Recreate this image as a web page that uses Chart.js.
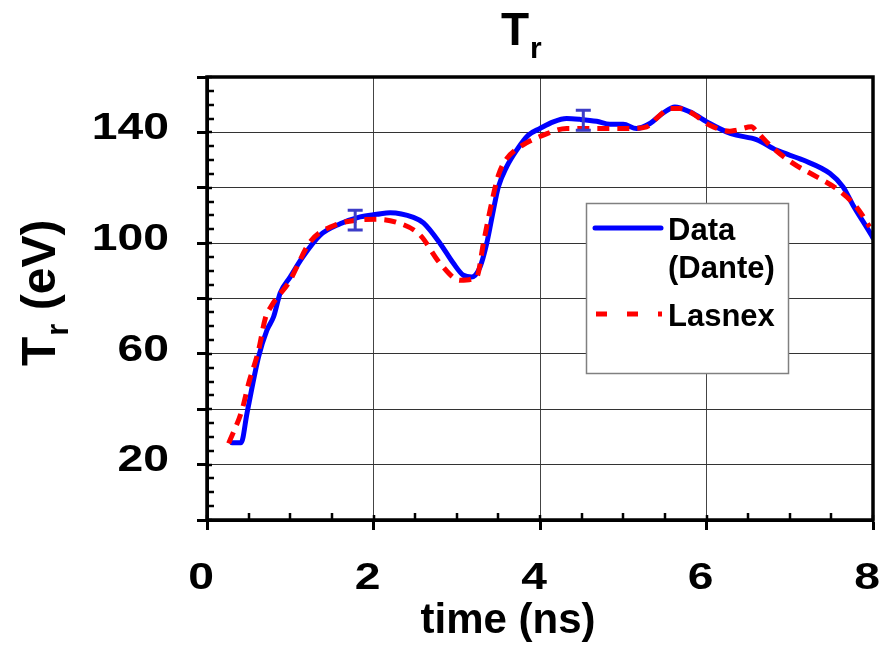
<!DOCTYPE html>
<html><head><meta charset="utf-8">
<script src="https://cdn.jsdelivr.net/npm/chart.js@4"></script>
<style>html,body{margin:0;padding:0;background:#fff}canvas{display:block}</style>
</head><body>
<canvas id="c" width="888" height="650"></canvas>
<script>
// ---- texts ----
const titleMain = 'T', titleSub = 'r';
const xTitle = 'time (ns)';
const yTitleMain = 'T', yTitleSub = 'r', yTitleRest = ' (eV)';
const legendData = ['Data', '(Dante)'];
const legendLasnex = ['Lasnex'];

// ---- axis ticks ----
const xMin = 0, xMax = 8, xStep = 2, xMinorStep = 0.5;
const yMin = 0, yMax = 160, yStep = 20, yMinorStep = 5;
const xLabeled = [0, 2, 4, 6, 8];
const yLabeled = [20, 60, 100, 140];

// ---- Data (Dante) ----
const dataTime = [0.30, 0.41, 0.48, 0.62, 0.72, 0.80, 0.88, 1.00, 1.15, 1.36, 1.60, 1.84, 2.04, 2.20, 2.48, 2.60, 2.80, 2.96, 3.08, 3.18, 3.28, 3.36, 3.44, 3.50, 3.60, 3.72, 3.86, 4.00, 4.16, 4.32, 4.48, 4.68, 4.84, 5.00, 5.16, 5.32, 5.48, 5.62, 5.80, 6.04, 6.24, 6.36, 6.60, 6.84, 7.16, 7.48, 7.64, 7.76, 7.98, 8.00];
const dataTemp = [27.9, 27.9, 38.5, 59.0, 68.6, 73.4, 82.0, 87.8, 95.0, 102.9, 107.0, 109.5, 110.4, 111.0, 109.3, 107.3, 99.9, 92.7, 88.4, 87.8, 91.4, 99.9, 111.9, 120.3, 127.6, 133.6, 139.0, 141.4, 143.8, 145.0, 144.7, 144.0, 142.9, 142.9, 141.4, 143.2, 147.0, 149.2, 147.4, 143.2, 140.2, 139.0, 137.4, 133.6, 130.0, 125.2, 120.3, 113.7, 102.9, 101.8];

// ---- Lasnex ----
const lasnexTime = [0.26, 0.42, 0.50, 0.62, 0.70, 0.78, 1.00, 1.04, 1.24, 1.52, 1.80, 2.04, 2.32, 2.56, 2.80, 3.04, 3.24, 3.32, 3.40, 3.50, 3.60, 3.76, 4.04, 4.32, 4.56, 4.84, 5.08, 5.28, 5.44, 5.56, 5.68, 5.80, 6.04, 6.28, 6.36, 6.54, 6.60, 6.76, 7.04, 7.32, 7.56, 7.80, 7.96];
const lasnexTemp = [27.7, 39.7, 49.3, 61.4, 72.8, 77.6, 86.6, 89.0, 100.5, 106.3, 108.3, 108.6, 107.1, 102.9, 92.7, 86.6, 87.8, 99.9, 111.9, 124.5, 130.5, 134.8, 139.0, 141.4, 141.4, 141.4, 141.4, 142.0, 146.2, 148.6, 148.6, 147.4, 142.6, 140.4, 140.8, 142.0, 140.4, 135.4, 128.8, 124.0, 119.7, 113.1, 105.9];

// ---- error bars on the data ----
const errTime = [1.78, 4.52];
const errTemp = [108.3, 144.4];
const errHalf = [3.6, 3.6];

const FONT = "'Liberation Sans', Arial, Helvetica, sans-serif";
const BLUE = '#0000FF', RED = '#FF0000', ERR = '#3C3CC8';
const TICK_STRETCH = 1.25;

const toXY = (xs, ys) => xs.map((x, i) => ({x: x, y: ys[i]}));

const decor = {
  id: 'decor',
  afterDatasetsDraw(chart) {
    const {ctx, scales: {x, y}} = chart;
    ctx.save();
    // error bars
    ctx.strokeStyle = ERR; ctx.lineWidth = 3; ctx.lineCap = 'butt';
    errTime.forEach((t, i) => {
      const px = x.getPixelForValue(t);
      const pTop = y.getPixelForValue(errTemp[i] + errHalf[i]);
      const pBot = y.getPixelForValue(errTemp[i] - errHalf[i]);
      ctx.beginPath();
      ctx.moveTo(px, pTop); ctx.lineTo(px, pBot);
      ctx.moveTo(px - 7.5, pTop); ctx.lineTo(px + 7.5, pTop);
      ctx.moveTo(px - 7.5, pBot); ctx.lineTo(px + 7.5, pBot);
      ctx.stroke();
    });
    // legend box
    const bx = 586, by = 203, bw = 202, bh = 170;
    ctx.fillStyle = '#fff';
    ctx.fillRect(bx, by, bw, bh);
    ctx.strokeStyle = '#808080'; ctx.lineWidth = 1.5;
    ctx.strokeRect(bx + 0.5, by + 0.5, bw, bh);
    const ds = chart.data.datasets;
    ctx.lineWidth = 5;
    ctx.strokeStyle = ds[0].borderColor; ctx.lineCap = 'round'; ctx.setLineDash([]);
    ctx.beginPath(); ctx.moveTo(595, 228); ctx.lineTo(661, 228); ctx.stroke();
    ctx.strokeStyle = ds[1].borderColor; ctx.lineCap = 'butt'; ctx.setLineDash([11, 20]);
    ctx.beginPath(); ctx.moveTo(596, 314); ctx.lineTo(662, 314); ctx.stroke();
    ctx.setLineDash([]);
    ctx.fillStyle = '#000'; ctx.textAlign = 'left'; ctx.textBaseline = 'alphabetic';
    ctx.font = 'bold 31px ' + FONT;
    ctx.fillText(legendData[0], 668, 240);
    ctx.fillText(legendData[1], 668, 278);
    ctx.fillText(legendLasnex[0], 668, 326);
    ctx.restore();
  },
  afterDraw(chart) {
    const {ctx, chartArea: a, scales: {x, y}} = chart;
    ctx.save();
    ctx.strokeStyle = '#000'; ctx.lineCap = 'butt';
    // minor ticks (inside)
    ctx.lineWidth = 2.5;
    ctx.beginPath();
    for (let v = yMin; v <= yMax; v += yMinorStep) {
      const py = Math.round(y.getPixelForValue(v));
      const len = (v % yStep === 0) ? 5 : 7;
      ctx.moveTo(a.left, py); ctx.lineTo(a.left + len, py);
    }
    for (let v = xMin; v <= xMax; v += xMinorStep) {
      const px = Math.round(x.getPixelForValue(v));
      const len = (v % xStep === 0) ? 5 : 7;
      ctx.moveTo(px, a.bottom); ctx.lineTo(px, a.bottom - len);
    }
    ctx.stroke();
    // frame
    ctx.lineWidth = 3.5;
    ctx.strokeRect(a.left, a.top, a.right - a.left, a.bottom - a.top);

    ctx.fillStyle = '#000';
    // tick labels (wide bold face)
    ctx.font = 'bold 37px ' + FONT;
    ctx.textBaseline = 'middle';
    ctx.textAlign = 'right';
    yLabeled.forEach(v => {
      ctx.save();
      ctx.translate(a.left - 38, y.getPixelForValue(v) - 3.5);
      ctx.scale(TICK_STRETCH, 1);
      ctx.fillText(String(v), 0, 0);
      ctx.restore();
    });
    ctx.textAlign = 'center';
    xLabeled.forEach(v => {
      ctx.save();
      ctx.translate(x.getPixelForValue(v) - 6, a.bottom + 59);
      ctx.scale(TICK_STRETCH, 1);
      ctx.fillText(String(v), 0, 0);
      ctx.restore();
    });

    ctx.textBaseline = 'alphabetic'; ctx.textAlign = 'left';
    // title
    ctx.font = 'bold 46px ' + FONT;
    ctx.fillText(titleMain, 501, 45);
    ctx.font = 'bold 30px ' + FONT;
    ctx.fillText(titleSub, 530, 58);
    // x title
    ctx.textAlign = 'center';
    ctx.font = 'bold 42px ' + FONT;
    ctx.fillText(xTitle, 508, 633);
    // y title
    ctx.save();
    ctx.translate(55, 366);
    ctx.rotate(-Math.PI / 2);
    ctx.textAlign = 'left';
    ctx.font = 'bold 48px ' + FONT;
    ctx.fillText(yTitleMain, 0, 0);
    let w = ctx.measureText(yTitleMain).width;
    ctx.font = 'bold 31px ' + FONT;
    ctx.fillText(yTitleSub, w + 1, 13);
    w += 1 + ctx.measureText(yTitleSub).width;
    ctx.font = 'bold 48px ' + FONT;
    ctx.fillText(yTitleRest, w, 0);
    ctx.restore();
    ctx.restore();
  }
};

new Chart(document.getElementById('c'), {
  type: 'scatter',
  data: {
    datasets: [
      {label: 'Data (Dante)', data: toXY(dataTime, dataTemp), showLine: true, borderColor: BLUE, backgroundColor: BLUE,
       borderWidth: 5, pointRadius: 0, cubicInterpolationMode: 'monotone', borderCapStyle: 'round', borderJoinStyle: 'round', fill: false, order: 2},
      {label: 'Lasnex', data: toXY(lasnexTime, lasnexTemp), showLine: true, borderColor: RED, backgroundColor: RED,
       borderWidth: 5, borderDash: [12, 8], pointRadius: 0, cubicInterpolationMode: 'monotone', fill: false, order: 1}
    ]
  },
  options: {
    responsive: false, animation: false, devicePixelRatio: 1,
    layout: {padding: {top: 77, right: 15, left: 0, bottom: 0}},
    plugins: {legend: {display: false}, tooltip: {enabled: false}, title: {display: false}},
    scales: {
      x: {
        type: 'linear', min: xMin, max: xMax,
        ticks: {stepSize: xStep, autoSkip: false, display: false},
        grid: {color: '#444', lineWidth: 1, tickLength: 10, tickColor: '#000', tickWidth: 3},
        border: {display: true, color: '#000', width: 3},
        afterFit(s) { s.height = 130; s.paddingLeft = 0; s.paddingRight = 0; }
      },
      y: {
        min: yMin, max: yMax,
        ticks: {stepSize: yStep, autoSkip: false, display: false},
        grid: {color: '#333', lineWidth: 1, tickLength: 10, tickColor: '#000', tickWidth: 3},
        border: {display: true, color: '#000', width: 3},
        afterFit(s) { s.width = 207; s.paddingTop = 0; s.paddingBottom = 0; }
      }
    }
  },
  plugins: [decor]
});
</script>
</body></html>
